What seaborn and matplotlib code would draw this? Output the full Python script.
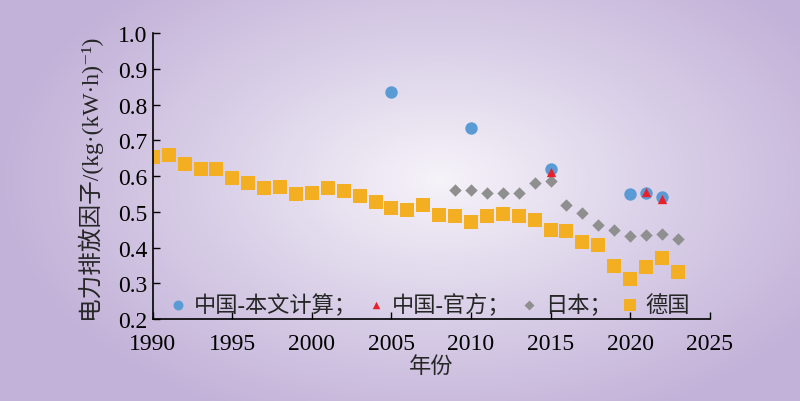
import numpy as np
import pandas as pd
import matplotlib
matplotlib.use("Agg")
import matplotlib.pyplot as plt
import seaborn as sns
from matplotlib.colors import LinearSegmentedColormap

# ── Data ─────────────────────────────────────────────────────────────────────
cn_calc_years = [2005, 2010, 2015, 2020, 2021, 2022]
cn_calc_vals = [0.834, 0.735, 0.620, 0.550, 0.553, 0.541]

cn_off_years = [2015, 2021, 2022]
cn_off_vals = [0.612, 0.556, 0.536]

jp_years = list(range(2009, 2024))
jp_vals = [0.562, 0.561, 0.552, 0.553, 0.554, 0.581, 0.587, 0.520,
           0.497, 0.463, 0.448, 0.433, 0.434, 0.438, 0.423]

de_years = list(range(1990, 2024))
de_vals = [0.654, 0.658, 0.633, 0.621, 0.619, 0.596, 0.582, 0.567, 0.570,
           0.551, 0.552, 0.567, 0.559, 0.543, 0.528, 0.510, 0.505, 0.518,
           0.490, 0.487, 0.472, 0.489, 0.495, 0.487, 0.478, 0.448, 0.445,
           0.415, 0.407, 0.347, 0.313, 0.345, 0.370, 0.331]

labels = ["中国-本文计算；", "中国-官方；", "日本；", "德国"]
x_ticks = list(range(1990, 2030, 5))
y_ticks = [round(0.2 + 0.1 * i, 1) for i in range(9)]

# ── Style ────────────────────────────────────────────────────────────────────
sns.set_style("ticks")
plt.rcParams['font.family'] = ['Liberation Serif', 'Noto Sans CJK SC', 'DejaVu Serif']
plt.rcParams['axes.unicode_minus'] = False

fig = plt.figure(figsize=(8, 4.02), dpi=100)

# radial background
bg = fig.add_axes([0, 0, 1, 1], zorder=-10)
xx, yy = np.meshgrid(np.linspace(0, 800, 400), np.linspace(0, 402, 201))
r = np.sqrt(((xx - 440) / 450) ** 2 + ((yy - 180) / 270) ** 2)
cmap = LinearSegmentedColormap.from_list("bgc", ["#f6f3f9", "#dad0e8", "#c2b1d8"])
bg.imshow(np.clip(r, 0, 1), cmap=cmap, vmin=0, vmax=1, aspect='auto',
          extent=[0, 800, 402, 0])
bg.axis('off')

ax = fig.add_axes([0.191, 0.204, 0.696, 0.711])
ax.patch.set_alpha(0)

sns.scatterplot(x=de_years, y=de_vals, ax=ax, marker='s', s=115,
                color='#F3AE22', linewidth=0, label=labels[3], zorder=2)
sns.scatterplot(x=jp_years, y=jp_vals, ax=ax, marker='D', s=40,
                color='#8f8f8f', linewidth=0, label=labels[2], zorder=3)
sns.scatterplot(x=cn_calc_years, y=cn_calc_vals, ax=ax, marker='o', s=80,
                color='#5B9BD5', linewidth=0, label=labels[0], zorder=4)
sns.scatterplot(x=cn_off_years, y=cn_off_vals, ax=ax, marker='^', s=45,
                color='#E8202A', linewidth=0, label=labels[1], zorder=5)

ax.set_xlim(1990, 2025)
ax.set_ylim(0.2, 1.0)
ax.set_xticks(x_ticks)
ax.set_yticks(y_ticks)
ax.set_yticklabels([f"{v:.1f}" for v in y_ticks])
ax.tick_params(direction='in', length=5, width=1, labelsize=17, colors='black')
ax.tick_params(axis='x', pad=10)
ax.tick_params(axis='y', pad=4)
for side in ['top', 'right']:
    ax.spines[side].set_visible(False)
for side in ['left', 'bottom']:
    ax.spines[side].set_color('black')
    ax.spines[side].set_linewidth(1.2)

ax.set_xlabel("年份", fontsize=16, labelpad=2)
ax.set_ylabel("电力排放因子/(kg·(kW·h)⁻¹)", fontsize=17, labelpad=12)

handles, labs = ax.get_legend_handles_labels()
order = [labs.index(l) for l in labels]
ax.legend([handles[i] for i in order], [labs[i] for i in order],
          loc='lower left', bbox_to_anchor=(0.03, 0.01), ncol=4, frameon=False,
          fontsize=16, handletextpad=0.3, columnspacing=0.45, handlelength=0.8,
          markerscale=0.8, borderaxespad=0, borderpad=0)

fig.savefig("out.png", dpi=100)
